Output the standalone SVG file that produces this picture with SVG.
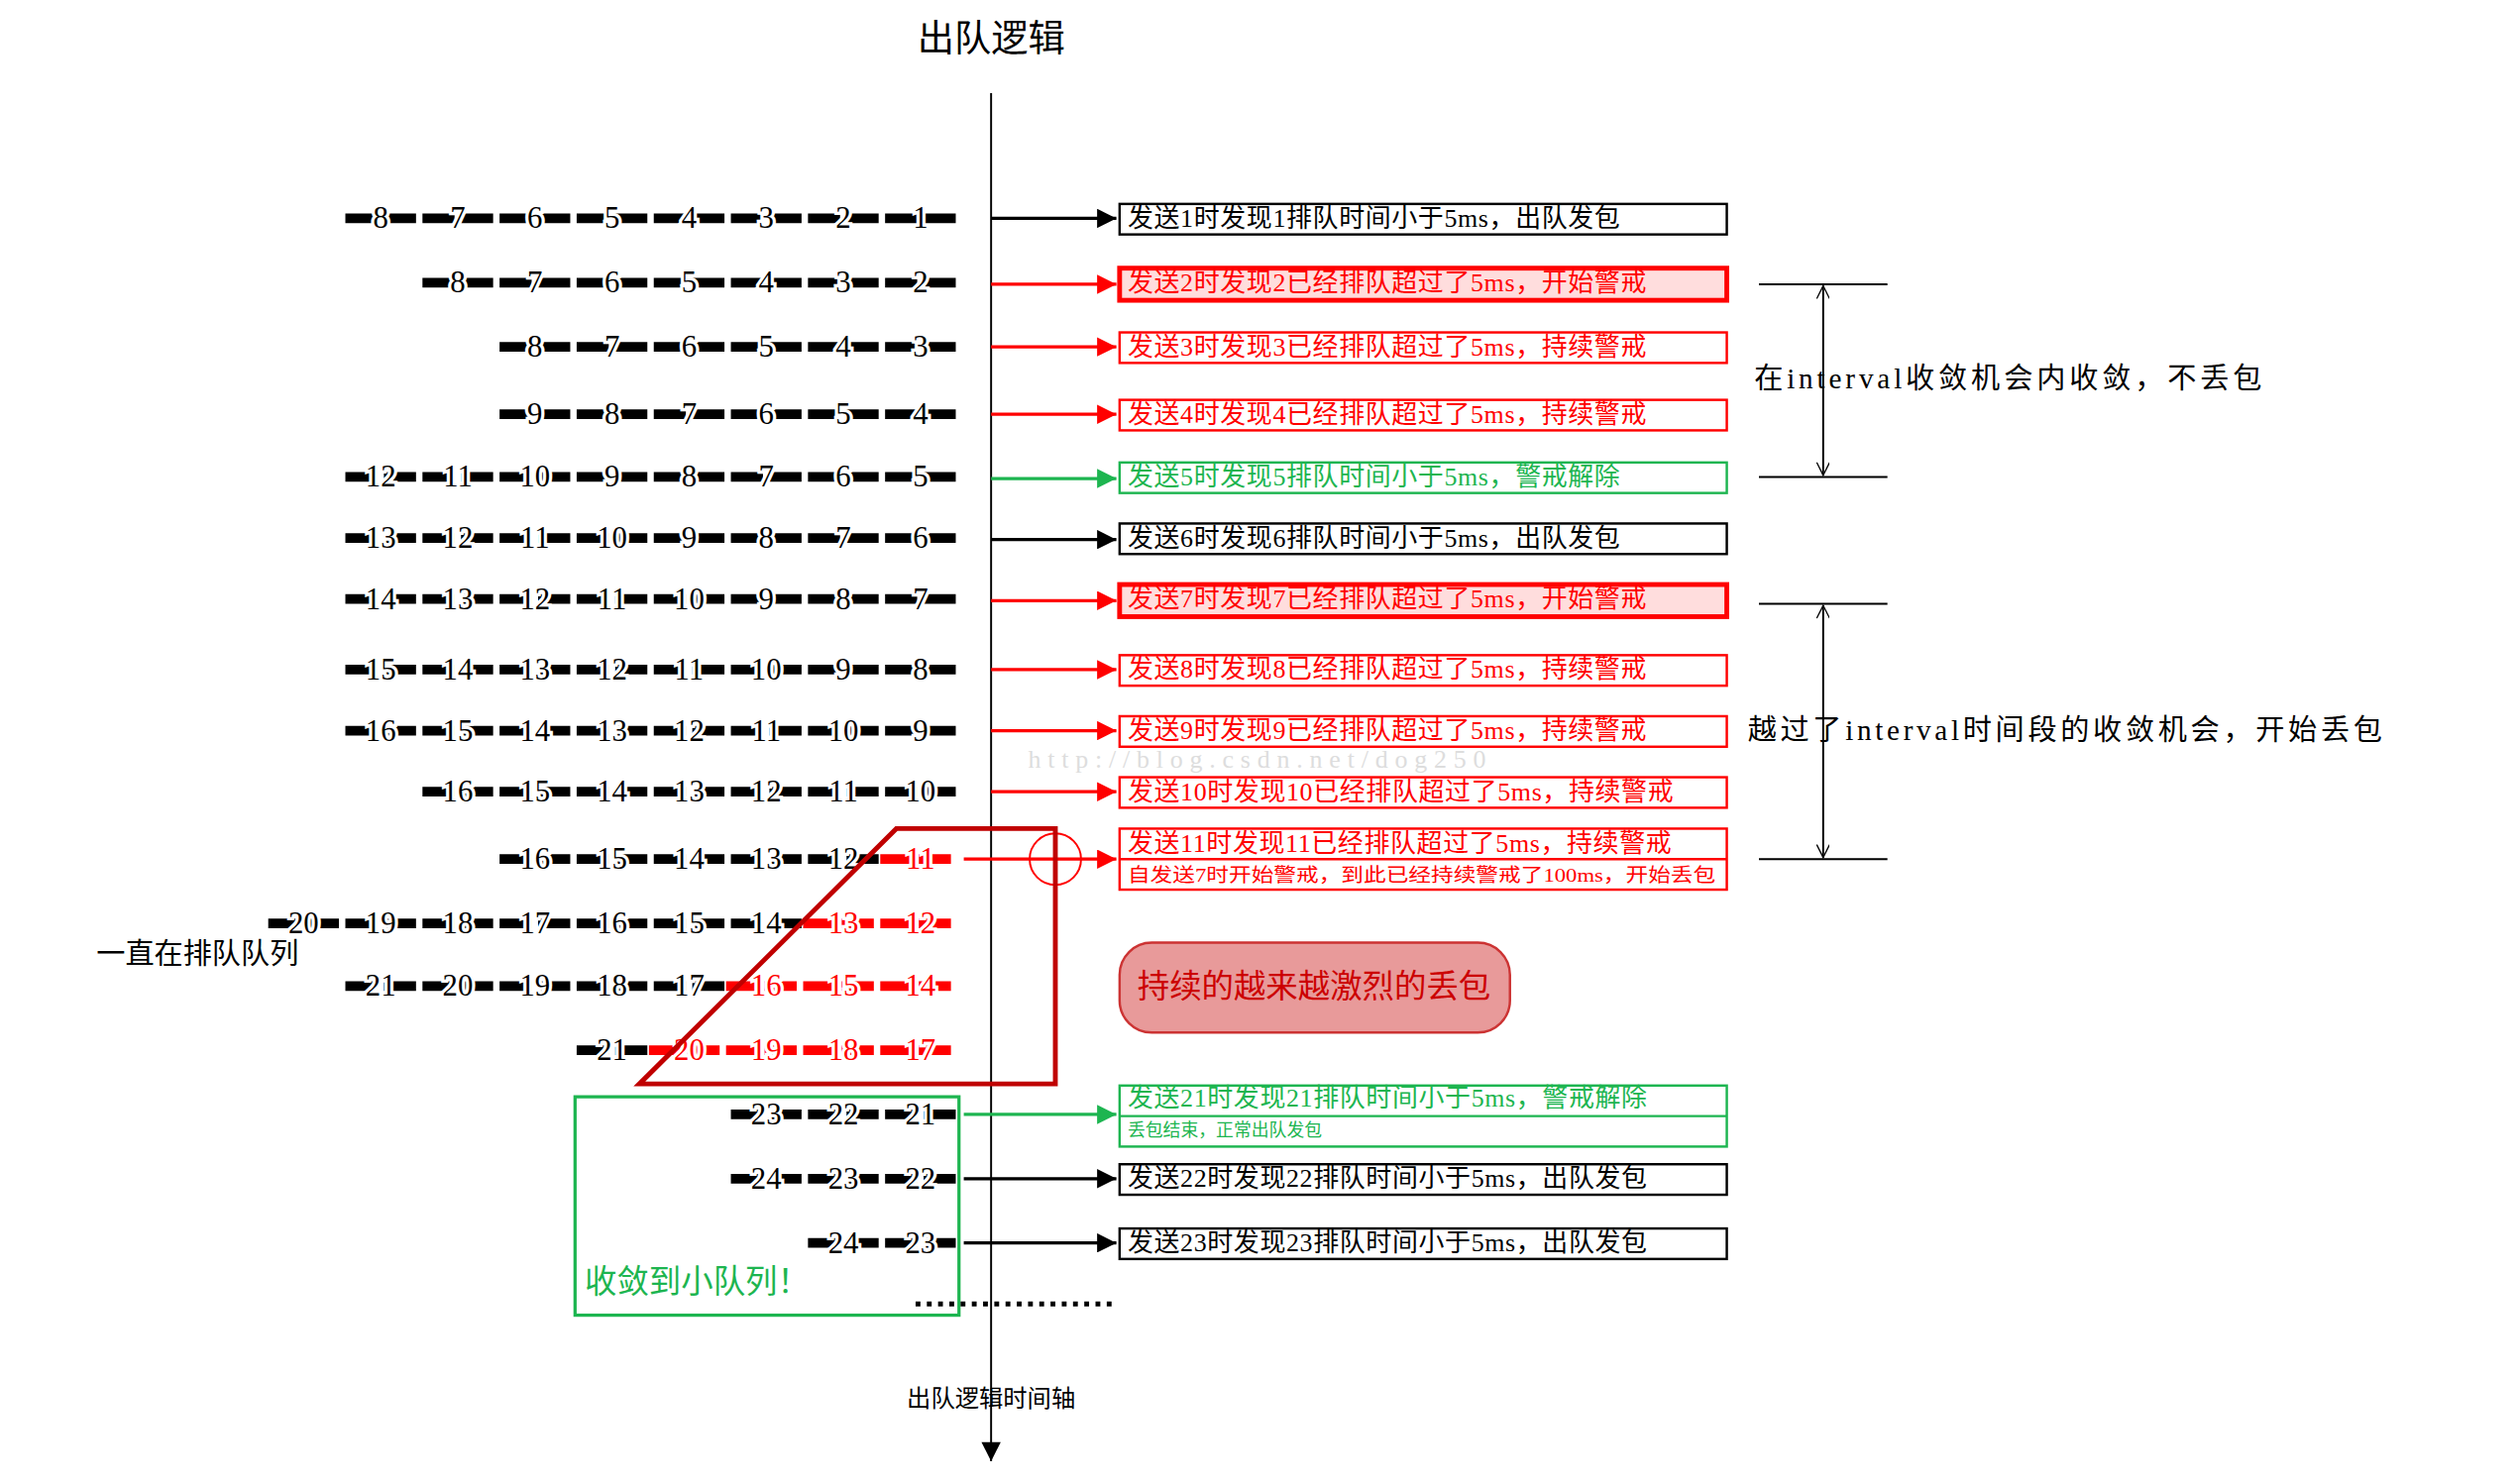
<svg xmlns="http://www.w3.org/2000/svg" width="2540" height="1498" viewBox="0 0 2540 1498">
<defs>
<marker id="ab" viewBox="0 0 10 10" refX="10" refY="5" markerWidth="14" markerHeight="12" markerUnits="userSpaceOnUse" orient="auto"><path d="M0,0L10,5L0,10z" fill="#000"/></marker>
<marker id="ar" viewBox="0 0 10 10" refX="10" refY="5" markerWidth="14" markerHeight="12" markerUnits="userSpaceOnUse" orient="auto"><path d="M0,0L10,5L0,10z" fill="#f00"/></marker>
<marker id="ag" viewBox="0 0 10 10" refX="10" refY="5" markerWidth="14" markerHeight="12" markerUnits="userSpaceOnUse" orient="auto"><path d="M0,0L10,5L0,10z" fill="#1db550"/></marker>
<marker id="at" viewBox="0 0 10 10" refX="10" refY="5" markerWidth="10" markerHeight="8" markerUnits="userSpaceOnUse" orient="auto-start-reverse"><path d="M0,0L10,5L0,10" fill="none" stroke="#000"/></marker>
</defs>
<style>
text{font-family:"Liberation Serif","Noto Sans CJK SC",serif}
.q{stroke-width:6;stroke-dasharray:20 4;fill:none}
.n{font-size:19px;text-anchor:middle;paint-order:stroke;stroke:#fff;stroke-width:4px;dominant-baseline:central}
.k{stroke:#000}.r{stroke:#f00}
.bt{font-size:16px;dominant-baseline:central;letter-spacing:0.4px}
.box{stroke-width:1.5}
.cb{stroke:#000;fill:#fff}.cr{stroke:#f00;fill:#fff}.cg{stroke:#1db550;fill:#fff}.cf{stroke:#f00;fill:#fdd;stroke-width:3}
.lb{stroke:#000;stroke-width:2;marker-end:url(#ab)}.lr{stroke:#f00;stroke-width:2;marker-end:url(#ar)}.lg{stroke:#1db550;stroke-width:2;marker-end:url(#ag)}
</style>
<rect width="2540" height="1498" fill="#fff"/>
<g transform="scale(1.621)">
<text x="617" y="32" font-size="23" text-anchor="middle">出队逻辑</text>
<g id="axis"><line x1="617" y1="58" x2="617" y2="910" stroke="#000" stroke-width="1.2" marker-end="url(#ab)"/>
<text x="617" y="876" font-size="15" text-anchor="middle">出队逻辑时间轴</text></g>

<g id="queues">
<path class="q k" d="M215 136H596M263 176H596M311 216H596M311 258H596M215 297H596M215 335H596M215 373H596M215 417H596M215 455H596M263 493H596M311 535H548M167 575H500M215 614H452M359 654H404"/>
<path class="q r" d="M548 535H596M500 575H596M452 614H596M404 654H596"/>
<path class="q k" d="M455 694H596M455 734H596M503 774H596"/>
<g class="n">
<text x="237" y="136">8</text><text x="285" y="136">7</text><text x="333" y="136">6</text><text x="381" y="136">5</text><text x="429" y="136">4</text><text x="477" y="136">3</text><text x="525" y="136">2</text><text x="573" y="136">1</text>
<text x="285" y="176">8</text><text x="333" y="176">7</text><text x="381" y="176">6</text><text x="429" y="176">5</text><text x="477" y="176">4</text><text x="525" y="176">3</text><text x="573" y="176">2</text>
<text x="333" y="216">8</text><text x="381" y="216">7</text><text x="429" y="216">6</text><text x="477" y="216">5</text><text x="525" y="216">4</text><text x="573" y="216">3</text>
<text x="333" y="258">9</text><text x="381" y="258">8</text><text x="429" y="258">7</text><text x="477" y="258">6</text><text x="525" y="258">5</text><text x="573" y="258">4</text>
<text x="237" y="297">12</text><text x="285" y="297">11</text><text x="333" y="297">10</text><text x="381" y="297">9</text><text x="429" y="297">8</text><text x="477" y="297">7</text><text x="525" y="297">6</text><text x="573" y="297">5</text>
<text x="237" y="335">13</text><text x="285" y="335">12</text><text x="333" y="335">11</text><text x="381" y="335">10</text><text x="429" y="335">9</text><text x="477" y="335">8</text><text x="525" y="335">7</text><text x="573" y="335">6</text>
<text x="237" y="373">14</text><text x="285" y="373">13</text><text x="333" y="373">12</text><text x="381" y="373">11</text><text x="429" y="373">10</text><text x="477" y="373">9</text><text x="525" y="373">8</text><text x="573" y="373">7</text>
<text x="237" y="417">15</text><text x="285" y="417">14</text><text x="333" y="417">13</text><text x="381" y="417">12</text><text x="429" y="417">11</text><text x="477" y="417">10</text><text x="525" y="417">9</text><text x="573" y="417">8</text>
<text x="237" y="455">16</text><text x="285" y="455">15</text><text x="333" y="455">14</text><text x="381" y="455">13</text><text x="429" y="455">12</text><text x="477" y="455">11</text><text x="525" y="455">10</text><text x="573" y="455">9</text>
<text x="285" y="493">16</text><text x="333" y="493">15</text><text x="381" y="493">14</text><text x="429" y="493">13</text><text x="477" y="493">12</text><text x="525" y="493">11</text><text x="573" y="493">10</text>
<text x="333" y="535">16</text><text x="381" y="535">15</text><text x="429" y="535">14</text><text x="477" y="535">13</text><text x="525" y="535">12</text><text x="573" y="535" fill="#f00">11</text>
<text x="189" y="575">20</text><text x="237" y="575">19</text><text x="285" y="575">18</text><text x="333" y="575">17</text><text x="381" y="575">16</text><text x="429" y="575">15</text><text x="477" y="575">14</text><text x="525" y="575" fill="#f00">13</text><text x="573" y="575" fill="#f00">12</text>
<text x="237" y="614">21</text><text x="285" y="614">20</text><text x="333" y="614">19</text><text x="381" y="614">18</text><text x="429" y="614">17</text><text x="477" y="614" fill="#f00">16</text><text x="525" y="614" fill="#f00">15</text><text x="573" y="614" fill="#f00">14</text>
<text x="381" y="654">21</text><text x="429" y="654" fill="#f00">20</text><text x="477" y="654" fill="#f00">19</text><text x="525" y="654" fill="#f00">18</text><text x="573" y="654" fill="#f00">17</text>
<text x="477" y="694">23</text><text x="525" y="694">22</text><text x="573" y="694">21</text>
<text x="477" y="734">24</text><text x="525" y="734">23</text><text x="573" y="734">22</text>
<text x="525" y="774">24</text><text x="573" y="774">23</text>
</g></g>

<g id="connectors">
<line class="lb" x1="617" y1="136" x2="695" y2="136"/>
<line class="lr" x1="617" y1="177" x2="695" y2="177"/>
<line class="lr" x1="617" y1="216" x2="695" y2="216"/>
<line class="lr" x1="617" y1="258" x2="695" y2="258"/>
<line class="lg" x1="617" y1="298" x2="695" y2="298"/>
<line class="lb" x1="617" y1="336" x2="695" y2="336"/>
<line class="lr" x1="617" y1="374" x2="695" y2="374"/>
<line class="lr" x1="617" y1="417" x2="695" y2="417"/>
<line class="lr" x1="617" y1="455" x2="695" y2="455"/>
<line class="lr" x1="617" y1="493" x2="695" y2="493"/>
<line class="lr" x1="600" y1="535" x2="695" y2="535"/>
<line class="lg" x1="600" y1="694" x2="695" y2="694"/>
<line class="lb" x1="600" y1="734" x2="695" y2="734"/>
<line class="lb" x1="600" y1="774" x2="695" y2="774"/>
</g>

<g id="b1"><rect class="box cb" x="697" y="127" width="378" height="19"/><text class="bt" x="702" y="136">发送1时发现1排队时间小于5ms，出队发包</text></g>
<g id="b2" fill="#f00"><rect class="box cf" x="697" y="167" width="378" height="20"/><text class="bt" x="702" y="176">发送2时发现2已经排队超过了5ms，开始警戒</text></g>
<g id="b3" fill="#f00"><rect class="box cr" x="697" y="207" width="378" height="19"/><text class="bt" x="702" y="216">发送3时发现3已经排队超过了5ms，持续警戒</text></g>
<g id="b4" fill="#f00"><rect class="box cr" x="697" y="249" width="378" height="19"/><text class="bt" x="702" y="258">发送4时发现4已经排队超过了5ms，持续警戒</text></g>
<g id="b5" fill="#1db550"><rect class="box cg" x="697" y="288" width="378" height="19"/><text class="bt" x="702" y="297">发送5时发现5排队时间小于5ms，警戒解除</text></g>
<g id="b6"><rect class="box cb" x="697" y="326" width="378" height="19"/><text class="bt" x="702" y="335">发送6时发现6排队时间小于5ms，出队发包</text></g>
<g id="b7" fill="#f00"><rect class="box cf" x="697" y="364" width="378" height="20"/><text class="bt" x="702" y="373">发送7时发现7已经排队超过了5ms，开始警戒</text></g>
<g id="b8" fill="#f00"><rect class="box cr" x="697" y="408" width="378" height="19"/><text class="bt" x="702" y="417">发送8时发现8已经排队超过了5ms，持续警戒</text></g>
<g id="b9" fill="#f00"><rect class="box cr" x="697" y="446" width="378" height="19"/><text class="bt" x="702" y="455">发送9时发现9已经排队超过了5ms，持续警戒</text></g>
<g id="b10" fill="#f00"><rect class="box cr" x="697" y="484" width="378" height="19"/><text class="bt" x="702" y="493">发送10时发现10已经排队超过了5ms，持续警戒</text></g>
<g id="b11" fill="#f00"><rect class="box cr" x="697" y="516" width="378" height="38" stroke-width="2"/><line x1="697" y1="535" x2="1075" y2="535" stroke="#f00" stroke-width="1.5"/>
<text class="bt" x="702" y="525">发送11时发现11已经排队超过了5ms，持续警戒</text><text x="702" y="545" font-size="12" dominant-baseline="central" textLength="366" lengthAdjust="spacingAndGlyphs">自发送7时开始警戒，到此已经持续警戒了100ms，开始丢包</text></g>
<g id="b21" fill="#1db550"><rect class="box cg" x="697" y="676" width="378" height="38"/><line x1="697" y1="695" x2="1075" y2="695" stroke="#1db550" stroke-width="1.5"/>
<text class="bt" x="702" y="684">发送21时发现21排队时间小于5ms，警戒解除</text><text x="702" y="704" font-size="11" dominant-baseline="central">丢包结束，正常出队发包</text></g>
<g id="b22"><rect class="box cb" x="697" y="725" width="378" height="19"/><text class="bt" x="702" y="734">发送22时发现22排队时间小于5ms，出队发包</text></g>
<g id="b23"><rect class="box cb" x="697" y="765" width="378" height="19"/><text class="bt" x="702" y="774">发送23时发现23排队时间小于5ms，出队发包</text></g>

<g id="marks">
<circle cx="657" cy="535" r="16" fill="none" stroke="#f00" stroke-width="1.2"/>
<polygon points="558,516 657,516 657,675 398,675" fill="none" stroke="#c00000" stroke-width="3"/>
<rect x="358" y="683" width="239" height="136" fill="none" stroke="#1db550" stroke-width="2"/>
<text x="364" y="805" font-size="20" fill="#1db550">收敛到小队列！</text>
<text x="60" y="600" font-size="18">一直在排队队列</text>
<line x1="570" y1="812" x2="692" y2="812" stroke="#000" stroke-width="3" stroke-dasharray="3 4"/>
<text x="640" y="478" font-size="16" fill="#ddd" textLength="285">http://blog.csdn.net/dog250</text>
</g>
<g id="drop"><rect x="697" y="587" width="243" height="56" rx="20" fill="#e89a9a" stroke="#c33" stroke-width="1.5"/>
<text x="818" y="621" font-size="20" fill="#c00" text-anchor="middle">持续的越来越激烈的丢包</text></g>

<g id="bracket1" stroke="#000" stroke-width="1.2">
<line x1="1095" y1="177" x2="1175" y2="177"/><line x1="1095" y1="297" x2="1175" y2="297"/>
<line x1="1135" y1="178" x2="1135" y2="296" marker-start="url(#at)" marker-end="url(#at)"/>
<text x="1092" y="242" font-size="18" stroke="none" textLength="316">在interval收敛机会内收敛，不丢包</text></g>
<g id="bracket2" stroke="#000" stroke-width="1.2">
<line x1="1095" y1="376" x2="1175" y2="376"/><line x1="1095" y1="535" x2="1175" y2="535"/>
<line x1="1135" y1="377" x2="1135" y2="534" marker-start="url(#at)" marker-end="url(#at)"/>
<text x="1088" y="461" font-size="18" stroke="none" textLength="395">越过了interval时间段的收敛机会，开始丢包</text></g>
</g>
</svg>
